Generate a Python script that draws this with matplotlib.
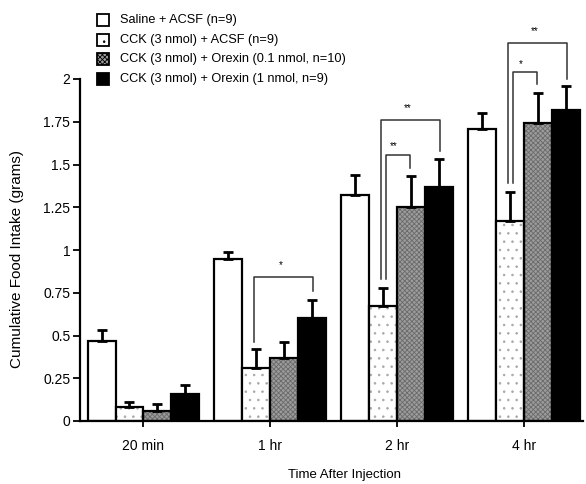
import matplotlib.pyplot as plt
import numpy as np
from matplotlib.patches import Rectangle

plt.rcParams['font.family'] = ['Liberation Sans', 'DejaVu Sans']
plt.rcParams['hatch.linewidth'] = 0.6

# time points
groups = ['20 min', '1 hr', '2 hr', '4 hr']

# mean intake (grams) and SEM for each treatment
saline_acsf = [0.47, 0.95, 1.32, 1.71]
saline_acsf_err = [0.06, 0.04, 0.12, 0.09]
cck_acsf = [0.08, 0.31, 0.67, 1.17]
cck_acsf_err = [0.03, 0.11, 0.11, 0.17]
cck_orx01 = [0.06, 0.37, 1.25, 1.74]
cck_orx01_err = [0.04, 0.09, 0.18, 0.18]
cck_orx1 = [0.16, 0.60, 1.37, 1.82]
cck_orx1_err = [0.05, 0.11, 0.16, 0.14]

labels = ['Saline + ACSF (n=9)',
          'CCK (3 nmol) + ACSF (n=9)',
          'CCK (3 nmol) + Orexin (0.1 nmol, n=10)',
          'CCK (3 nmol) + Orexin (1 nmol, n=9)']

# significance brackets: group, left bar, right bar, left leg end, right leg end, top, stars
brackets = [
    (1, 1, 3, 0.46, 0.76, 0.84, '*'),
    (2, 1, 2, 0.83, 1.48, 1.555, '**'),
    (2, 1, 3, 0.83, 1.58, 1.76, '**'),
    (3, 1, 2, 1.39, 1.97, 2.04, '*'),
    (3, 1, 3, 1.39, 2.00, 2.21, '**'),
]

fig = plt.figure(figsize=(5.86, 4.84), dpi=100)
ax = fig.add_axes([80 / 586, 63 / 484, 503 / 586, 342 / 484])

x = np.arange(len(groups))
w = 0.22
offsets = [-1.5 * w, -0.5 * w, 0.5 * w, 1.5 * w]
means = [saline_acsf, cck_acsf, cck_orx01, cck_orx1]
errs = [saline_acsf_err, cck_acsf_err, cck_orx01_err, cck_orx1_err]

lw = 1.6
gray_face = '#9c9c9c'
# white
ax.bar(x + offsets[0], saline_acsf, w, color='white', edgecolor='black', linewidth=lw, zorder=2)
# dotted: draw hatch then outline
ax.bar(x + offsets[1], cck_acsf, w, color='white', edgecolor='#a8a8a8', hatch='..', linewidth=0, zorder=2)
ax.bar(x + offsets[1], cck_acsf, w, fill=False, edgecolor='black', linewidth=lw, zorder=3)
# gray textured
ax.bar(x + offsets[2], cck_orx01, w, color=gray_face, edgecolor='#6a6a6a', hatch='xxxxxxx', linewidth=0, zorder=2)
ax.bar(x + offsets[2], cck_orx01, w, fill=False, edgecolor='black', linewidth=lw, zorder=3)
# black
ax.bar(x + offsets[3], cck_orx1, w, color='black', edgecolor='black', linewidth=lw, zorder=2)

for i in range(4):
    ax.errorbar(x + offsets[i], means[i], yerr=[np.zeros(4), errs[i]], fmt='none',
                ecolor='black', elinewidth=2, capsize=3.5, capthick=2, zorder=4)

# brackets
for g, b1, b2, y1, y2, top, stars in brackets:
    xl = g + offsets[b1]
    xr = g + offsets[b2]
    if b2 == 3:
        xl -= 0.015
        xr += 0.005
    else:
        xl += 0.025
        xr -= 0.01
    ax.plot([xl, xl, xr, xr], [y1, top, top, y2], color='#333333', lw=1.1,
            clip_on=False, zorder=5)
    sx = (xl + xr) / 2 - 0.02 if b2 == 3 else xl + 0.06
    sy = top + (0.07 if b2 == 3 else 0.05)
    ax.text(sx, sy, stars, ha='center', va='center', fontsize=7, clip_on=False)

ax.set_xlim(-0.5, 3.465)
ax.set_ylim(0, 2)
ax.set_xticks(x)
ax.set_xticklabels(groups, fontsize=10)
yt = [0, 0.25, 0.5, 0.75, 1, 1.25, 1.5, 1.75, 2]
ax.set_yticks(yt)
ax.set_yticklabels(['0', '0.25', '0.5', '0.75', '1', '1.25', '1.5', '1.75', '2'], fontsize=10)
ax.tick_params(axis='y', length=5, width=1.3, pad=2)
ax.tick_params(axis='x', length=4, width=1.3, pad=9)
for s in ['top', 'right']:
    ax.spines[s].set_visible(False)
for s in ['left', 'bottom']:
    ax.spines[s].set_linewidth(1.6)

ax.set_xlabel('Time After Injection', fontsize=9.5)
ax.xaxis.set_label_coords((345 - 80) / 503, -(469 - 421) / 342)
ax.set_ylabel('Cumulative Food Intake (grams)', fontsize=11)
ax.yaxis.set_label_coords(-(80 - 24) / 503, (421 - 259) / 342)

# legend drawn as boxes + text in figure pixels
styles = [dict(facecolor='white', hatch=None),
          dict(facecolor='white', hatch='..'),
          dict(facecolor=gray_face, hatch='xxxxxxx'),
          dict(facecolor='black', hatch=None)]
rows_y = [20, 40, 59, 79]
for yy, st, lab in zip(rows_y, styles, labels):
    r = Rectangle((97 / 586, 1 - (yy + 6) / 484), 12 / 586, 12 / 484, transform=fig.transFigure,
                  facecolor=st['facecolor'], edgecolor='black', linewidth=1.3, hatch=st['hatch'])
    fig.add_artist(r)
    fig.text(120 / 586, 1 - yy / 484, lab, fontsize=9.2, va='center', ha='left')

fig.savefig('out.png', dpi=100)
